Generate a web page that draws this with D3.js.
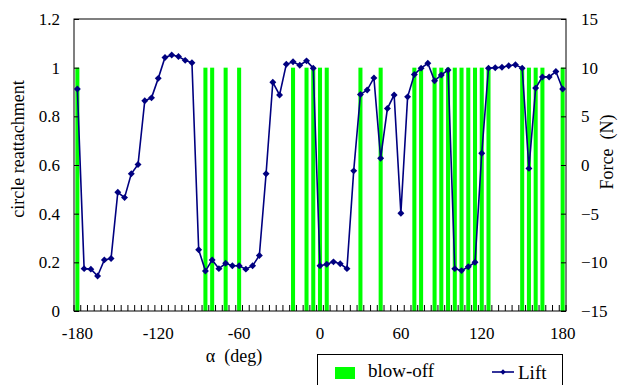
<!DOCTYPE html>
<html>
<head>
<meta charset="utf-8">
<script src="https://cdn.jsdelivr.net/npm/d3@7"></script>
<style>
  body { margin: 0; background: #fff; }
  svg { display: block; font-family: "Liberation Serif", "Times New Roman", serif; }
</style>
</head>
<body>
<div id="chart"></div>
<script>
// alpha in degrees, one category every 5 deg
const angles = d3.range(-180, 181, 5);
const angleLabels = [-180, -120, -60, 0, 60, 120, 180];
const leftTicks = [0, 0.2, 0.4, 0.6, 0.8, 1, 1.2];
const rightTicks = [-15, -10, -5, 0, 5, 10, 15];

// lift force (N)
const lift = [
  7.8, -10.65, -10.7, -11.4, -9.75, -9.6, -2.8, -3.35, -0.9, 0.05,
  6.6, 6.9, 8.9, 11.05, 11.3, 11.15, 10.75, 10.5, -8.7, -10.9,
  -9.75, -10.65, -10.1, -10.35, -10.35, -10.7, -10.35, -9.3, -0.9, 8.5,
  7.2, 10.35, 10.6, 10.25, 10.7, 9.95, -10.35, -10.2, -9.95, -10.15,
  -10.65, -0.6, 7.25, 7.7, 8.95, 0.7, 5.8, 7.2, -4.95, 7.0,
  9.3, 9.95, 10.45, 8.65, 9.25, 9.75, -10.65, -10.85, -10.45, -10.0,
  1.2, 9.95, 10.0, 10.05, 10.2, 10.3, 9.95, -0.35, 7.9, 9.05,
  9.05, 9.6, 7.8
];

// angles where blow-off happened (circle reattachment = 1)
const blowOffAngles = [-180, -85, -80, -70, -60, -20, -10, -5, 0, 5, 30, 45,
  70, 75, 85, 90, 95, 100, 105, 110, 115, 120, 125, 150, 155, 160, 165, 180];
const blowOff = angles.map(a => blowOffAngles.includes(a) ? 1 : 0);

const W = 632, H = 385;
const margin = {top: 19, right: 66, bottom: 74, left: 74};

const svg = d3.select('#chart').append('svg')
  .attr('width', W)
  .attr('height', H);

const x = d3.scaleBand()
  .domain(angles)
  .range([margin.left, W - margin.right])
  .paddingInner(0.4)
  .paddingOuter(0.2);
const step = x.step();
const cx = a => x(a) + x.bandwidth() / 2;

const yL = d3.scaleLinear().domain([0, 1.2]).range([H - margin.bottom, margin.top]);
const yR = d3.scaleLinear().domain([-15, 15]).range([H - margin.bottom, margin.top]);

const x0 = margin.left, x1 = W - margin.right;
const y0 = H - margin.bottom, y1 = margin.top;

// blow-off bars
svg.append('g')
  .selectAll('rect')
  .data(angles.map((a, i) => ({a, v: blowOff[i]})).filter(d => d.v > 0))
  .enter().append('rect')
  .attr('x', d => x(d.a))
  .attr('width', x.bandwidth())
  .attr('y', d => yL(d.v))
  .attr('height', d => yL(0) - yL(d.v))
  .attr('fill', '#00ff00');

// plot frame
svg.append('rect')
  .attr('x', x0).attr('y', y1)
  .attr('width', x1 - x0).attr('height', y0 - y1)
  .attr('fill', 'none')
  .attr('stroke', '#000')
  .attr('stroke-width', 1);

// left axis
const leftAxis = svg.append('g')
  .attr('transform', `translate(${x0},0)`)
  .call(d3.axisLeft(yL).tickValues(leftTicks).tickSize(-5).tickPadding(14)
    .tickFormat(d => d3.format('')(+d.toFixed(1))));
leftAxis.attr('font-family', null).attr('font-size', null);
leftAxis.select('.domain').remove();
leftAxis.selectAll('text').style('font-size', '17px').attr('fill', '#000');

// right axis
const rightAxis = svg.append('g')
  .attr('transform', `translate(${x1},0)`)
  .call(d3.axisRight(yR).tickValues(rightTicks).tickSize(-5).tickPadding(15));
rightAxis.attr('font-family', null).attr('font-size', null);
rightAxis.select('.domain').remove();
rightAxis.selectAll('text').style('font-size', '17px').attr('fill', '#000');

// bottom category ticks (between categories)
const edges = angles.map(a => x(a) - step * 0.2).concat([x1]);
svg.append('g')
  .selectAll('line')
  .data(edges)
  .enter().append('line')
  .attr('x1', d => d).attr('x2', d => d)
  .attr('y1', y0).attr('y2', y0 - 6)
  .attr('stroke', '#000')
  .attr('stroke-width', 1);

// bottom labels
svg.append('g')
  .selectAll('text')
  .data(angleLabels)
  .enter().append('text')
  .attr('x', d => cx(d))
  .attr('y', 339)
  .attr('text-anchor', 'middle')
  .style('font-size', '17px')
  .text(d => d);

// lift line
const line = d3.line()
  .x((d, i) => cx(angles[i]))
  .y(d => yR(d));

svg.append('path')
  .datum(lift)
  .attr('d', line)
  .attr('fill', 'none')
  .attr('stroke', '#000080')
  .attr('stroke-width', 1.6);

const marker = d3.symbol(d3.symbolSquare, 24);
svg.append('g')
  .selectAll('path')
  .data(lift)
  .enter().append('path')
  .attr('d', marker)
  .attr('transform', (d, i) => `translate(${cx(angles[i])},${yR(d)}) rotate(45)`)
  .attr('fill', '#000080');

// axis titles
svg.append('text')
  .attr('transform', `translate(24,${(y0 + y1) / 2 - 16}) rotate(-90)`)
  .attr('text-anchor', 'middle')
  .style('font-size', '18px')
  .text('circle reattachment');

svg.append('text')
  .attr('transform', `translate(613,${(y0 + y1) / 2 - 13}) rotate(-90)`)
  .attr('text-anchor', 'middle')
  .style('font-size', '18px')
  .text('Force\u00a0\u00a0(N)');

svg.append('text')
  .attr('x', 234)
  .attr('y', 362)
  .attr('text-anchor', 'middle')
  .style('font-size', '18px')
  .text('\u03b1\u00a0\u00a0(deg)');

// legend
const legend = svg.append('g');
legend.append('rect')
  .attr('x', 317.5).attr('y', 354.5)
  .attr('width', 245).attr('height', 40)
  .attr('fill', '#fff')
  .attr('stroke', '#000');
legend.append('rect')
  .attr('x', 335).attr('y', 367)
  .attr('width', 20).attr('height', 12)
  .attr('fill', '#00ff00');
legend.append('text')
  .attr('x', 368).attr('y', 377)
  .style('font-size', '19px')
  .text('blow-off');
legend.append('line')
  .attr('x1', 492).attr('x2', 514)
  .attr('y1', 372).attr('y2', 372)
  .attr('stroke', '#000080')
  .attr('stroke-width', 1.6);
legend.append('path')
  .attr('d', d3.symbol(d3.symbolSquare, 14))
  .attr('transform', 'translate(503,372) rotate(45)')
  .attr('fill', '#000080');
legend.append('text')
  .attr('x', 518).attr('y', 379)
  .style('font-size', '19px')
  .text('Lift');
</script>
</body>
</html>
